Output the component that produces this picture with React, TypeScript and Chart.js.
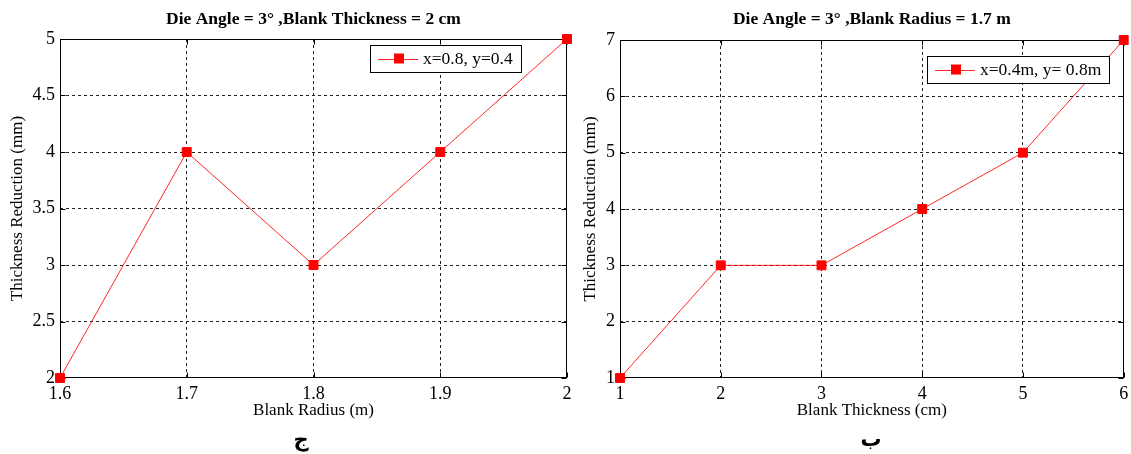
import React, { useEffect, useRef } from "react";
import { Chart, registerables } from "chart.js";

Chart.register(...registerables);

// Panel ج: thickness reduction against blank radius
const radiusValues = [1.6, 1.7, 1.8, 1.9, 2.0];
const reductionByRadius = [2, 4, 3, 4, 5];
const radiusTicks = [1.6, 1.7, 1.8, 1.9, 2.0];
const reductionTicksA = [2, 2.5, 3, 3.5, 4, 4.5, 5];

// Panel ب: thickness reduction against blank thickness
const thicknessValues = [1, 2, 3, 4, 5, 6];
const reductionByThickness = [1, 3, 3, 4, 5, 7];
const thicknessTicks = [1, 2, 3, 4, 5, 6];
const reductionTicksB = [1, 2, 3, 4, 5, 6, 7];

const SERIF = "'Liberation Serif', 'Times New Roman', serif";
const ARABIC = "'DejaVu Sans', 'Noto Sans', sans-serif";
const RED = "#ff0000";

type LegendBox = { x: number; y: number; w: number; h: number };

type PanelSpec = {
  title: string;
  caption: string;
  captionX: number;
  xTitle: string;
  yTitle: string;
  seriesLabel: string;
  xs: number[];
  ys: number[];
  xTicks: number[];
  yTicks: number[];
  left: number;
  width: number;
  height: number;
  plotTop: number;
  yAxisWidth: number;
  padRight: number;
  yTitlePad: number;
  legend: LegendBox;
};

const fmt = (v: number) => String(Number(v.toFixed(2)));

// Bold heading centred over the plot area, plus the panel letter underneath
const plotTitlePlugin = {
  id: "plotTitle",
  afterDraw(chart: any, _args: any, opts: any) {
    const { ctx, chartArea: a } = chart;
    ctx.save();
    ctx.fillStyle = "#000";
    if (opts.text) {
      ctx.font = `bold 17.5px ${SERIF}`;
      ctx.textAlign = "center";
      ctx.textBaseline = "middle";
      ctx.fillText(opts.text, (a.left + a.right) / 2, opts.y);
    }
    if (opts.caption) {
      ctx.font = `bold 21px ${ARABIC}`;
      ctx.textAlign = "center";
      ctx.textBaseline = "alphabetic";
      ctx.fillText(opts.caption, opts.captionX, opts.captionBaseline);
    }
    ctx.restore();
  },
};

// Solid box round the plot area with short inward tick marks on all four sides
const framePlugin = {
  id: "frame",
  beforeDatasetsDraw(chart: any) {
    const { ctx, chartArea: a, scales } = chart;
    const L = Math.round(a.left) + 0.5;
    const R = Math.round(a.right) - 0.5;
    const T = Math.round(a.top) + 0.5;
    const B = Math.round(a.bottom) - 0.5;
    const len = 5;
    ctx.save();
    ctx.setLineDash([]);
    ctx.strokeStyle = "#000";
    ctx.lineWidth = 1;
    ctx.strokeRect(L, T, R - L, B - T);
    ctx.beginPath();
    scales.x.ticks.forEach((t: any) => {
      const px = Math.round(scales.x.getPixelForValue(t.value)) + 0.5;
      ctx.moveTo(px, B);
      ctx.lineTo(px, B - len);
      ctx.moveTo(px, T);
      ctx.lineTo(px, T + len);
    });
    scales.y.ticks.forEach((t: any) => {
      const py = Math.round(scales.y.getPixelForValue(t.value)) + 0.5;
      ctx.moveTo(L, py);
      ctx.lineTo(L + len, py);
      ctx.moveTo(R, py);
      ctx.lineTo(R - len, py);
    });
    ctx.stroke();
    ctx.restore();
  },
};

// Boxed legend inside the plot area
const boxLegendPlugin = {
  id: "boxLegend",
  afterDatasetsDraw(chart: any, _args: any, opts: any) {
    const box: LegendBox = opts.box;
    if (!box) return;
    const ds = chart.data.datasets[0];
    const { ctx } = chart;
    const x = Math.round(box.x) + 0.5;
    const y = Math.round(box.y) + 0.5;
    const cy = box.y + box.h / 2;
    ctx.save();
    ctx.setLineDash([]);
    ctx.fillStyle = "#fff";
    ctx.fillRect(x, y, box.w, box.h);
    ctx.strokeStyle = "#000";
    ctx.lineWidth = 1;
    ctx.strokeRect(x, y, box.w, box.h);
    ctx.strokeStyle = "rgba(255,0,0,0.85)";
    ctx.beginPath();
    ctx.moveTo(box.x + 8, Math.round(cy) + 0.5);
    ctx.lineTo(box.x + 48, Math.round(cy) + 0.5);
    ctx.stroke();
    ctx.fillStyle = RED;
    const s = 10;
    ctx.fillRect(box.x + 29 - s / 2, cy - s / 2, s, s);
    ctx.fillStyle = "#000";
    ctx.font = `17.5px ${SERIF}`;
    ctx.textBaseline = "middle";
    ctx.textAlign = "left";
    ctx.fillText(ds.label, box.x + 53, cy + 1);
    ctx.restore();
  },
};

function LinePanel({ spec }: { spec: PanelSpec }) {
  const ref = useRef<HTMLCanvasElement | null>(null);

  useEffect(() => {
    if (!ref.current) return;
    const xMin = spec.xTicks[0];
    const xMax = spec.xTicks[spec.xTicks.length - 1];
    const yMin = spec.yTicks[0];
    const yMax = spec.yTicks[spec.yTicks.length - 1];
    const tickFont = { family: SERIF, size: 18 };
    const interior = (lo: number, hi: number) => (c: any) =>
      c.tick && (Math.abs(c.tick.value - lo) < 1e-9 || Math.abs(c.tick.value - hi) < 1e-9)
        ? "rgba(0,0,0,0)"
        : "#222";
    const xAxisHeight = 43;

    const chart = new Chart(ref.current, {
      type: "line",
      data: {
        datasets: [
          {
            label: spec.seriesLabel,
            data: spec.xs.map((x, i) => ({ x, y: spec.ys[i] })),
            borderColor: "rgba(255,0,0,0.85)",
            borderWidth: 1,
            backgroundColor: RED,
            pointBackgroundColor: RED,
            pointBorderColor: RED,
            pointBorderWidth: 1,
            pointStyle: "rect",
            pointRadius: 6.3,
            tension: 0,
            clip: false,
          } as any,
        ],
      },
      options: {
        animation: false,
        responsive: false,
        maintainAspectRatio: false,
        layout: {
          padding: {
            top: spec.plotTop,
            left: 0,
            right: spec.padRight,
            bottom: spec.height - 378 - xAxisHeight,
          },
        },
        plugins: {
          legend: { display: false },
          tooltip: { enabled: false },
          title: { display: false },
          plotTitle: {
            text: spec.title,
            y: 19,
            caption: spec.caption,
            captionX: spec.captionX,
            captionBaseline: 446,
          },
          boxLegend: { box: spec.legend },
        } as any,
        scales: {
          x: {
            type: "linear",
            min: xMin,
            max: xMax,
            afterBuildTicks: (s: any) => {
              s.ticks = spec.xTicks.map((value) => ({ value }));
            },
            afterFit: (s: any) => {
              s.height = xAxisHeight;
              s.paddingLeft = 0;
              s.paddingRight = 0;
            },
            grid: { color: interior(xMin, xMax), lineWidth: 1, drawTicks: false },
            border: { display: false, dash: [3, 3] },
            ticks: {
              color: "#000",
              font: tickFont,
              padding: 5,
              autoSkip: false,
              maxRotation: 0,
              callback: (v: any) => fmt(Number(v)),
            },
            title: {
              display: true,
              text: spec.xTitle,
              color: "#000",
              font: { family: SERIF, size: 17 },
              padding: 0,
            },
          },
          y: {
            type: "linear",
            min: yMin,
            max: yMax,
            afterBuildTicks: (s: any) => {
              s.ticks = spec.yTicks.map((value) => ({ value }));
            },
            afterFit: (s: any) => {
              s.width = spec.yAxisWidth;
              s.paddingTop = 0;
              s.paddingBottom = 0;
            },
            grid: { color: interior(yMin, yMax), lineWidth: 1, drawTicks: false },
            border: { display: false, dash: [3, 3] },
            ticks: {
              color: "#000",
              font: tickFont,
              padding: 5,
              autoSkip: false,
              callback: (v: any) => fmt(Number(v)),
            },
            title: {
              display: true,
              text: spec.yTitle,
              color: "#000",
              font: { family: SERIF, size: 17 },
              padding: { top: spec.yTitlePad, bottom: 0 },
            },
          },
        },
      } as any,
      plugins: [framePlugin, boxLegendPlugin, plotTitlePlugin],
    });
    return () => chart.destroy();
  }, [spec]);

  return (
    <canvas
      ref={ref}
      width={spec.width}
      height={spec.height}
      style={{ position: "absolute", left: spec.left, top: 0, width: spec.width, height: spec.height }}
    />
  );
}

const radiusPanel: PanelSpec = {
  title: "Die Angle = 3° ,Blank Thickness = 2 cm",
  caption: "ج",
  captionX: 301,
  xTitle: "Blank Radius (m)",
  yTitle: "Thickness Reduction (mm)",
  seriesLabel: "x=0.8, y=0.4",
  xs: radiusValues,
  ys: reductionByRadius,
  xTicks: radiusTicks,
  yTicks: reductionTicksA,
  left: 0,
  width: 575,
  height: 454,
  plotTop: 39,
  yAxisWidth: 60,
  padRight: 8,
  yTitlePad: 7,
  legend: { x: 370, y: 45, w: 151, h: 27 },
};

const thicknessPanel: PanelSpec = {
  title: "Die Angle = 3° ,Blank Radius = 1.7 m",
  caption: "ب",
  captionX: 296,
  xTitle: "Blank Thickness (cm)",
  yTitle: "Thickness Reduction (mm)",
  seriesLabel: "x=0.4m, y= 0.8m",
  xs: thicknessValues,
  ys: reductionByThickness,
  xTicks: thicknessTicks,
  yTicks: reductionTicksB,
  left: 575,
  width: 556,
  height: 454,
  plotTop: 40,
  yAxisWidth: 45,
  padRight: 6,
  yTitlePad: 5,
  legend: { x: 352, y: 56, w: 182, h: 27 },
};

export default function App() {
  return (
    <div
      style={{
        position: "absolute",
        left: 0,
        top: 0,
        width: 1131,
        height: 454,
        background: "#fff",
        overflow: "hidden",
      }}
    >
      <LinePanel spec={radiusPanel} />
      <LinePanel spec={thicknessPanel} />
    </div>
  );
}
